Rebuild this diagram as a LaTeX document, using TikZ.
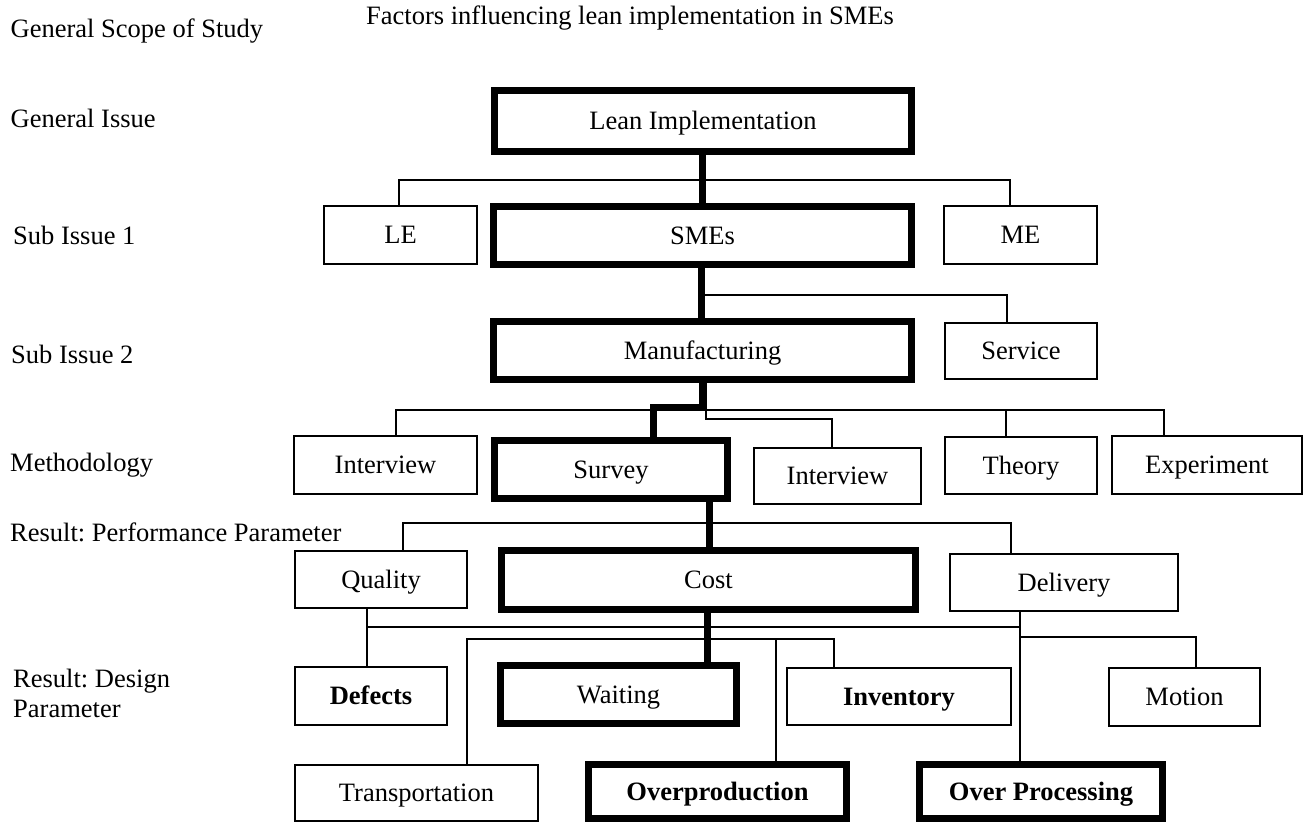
\documentclass[tikz,border=0pt]{standalone}
\usepackage{fontspec}
\setmainfont{Liberation Serif}
\begin{document}
\frenchspacing
\begin{tikzpicture}[x=1pt,y=-1pt,
  every node/.style={font=\fontsize{26.5}{30}\selectfont},
  thinbox/.style={draw, line width=2.2pt, inner sep=0pt, outer sep=0pt, fill=white, text height=22pt, text depth=5pt},
  thickbox/.style={draw, line width=7pt, inner sep=0pt, outer sep=0pt, fill=white, text height=22pt, text depth=5pt},
  thinline/.style={line width=2.5pt, line join=miter},
  thickline/.style={line width=7pt, line join=miter},
  lbl/.style={anchor=west, inner sep=0pt, align=left}]
\useasboundingbox (0,0) rectangle (1307,825);

% left labels and title
\node[lbl] (title) at (366,18) {Factors influencing lean implementation in SMEs};
\node[lbl] (gss) at (10.5,31) {General Scope of Study};
\node[lbl] (gi) at (10.5,118) {General Issue};
\node[lbl] (si1) at (13,235) {Sub Issue 1};
\node[lbl] (si2) at (11,354) {Sub Issue 2};
\node[lbl] (meth) at (10,465) {Methodology};
\node[lbl] (rpp) at (10,532) {Result: Performance Parameter};
\node[lbl] (rdp) at (13,693) {Result: Design\\Parameter};

% junction points
\coordinate (t1) at (702,180);
\coordinate (a1) at (399,180);
\coordinate (a2) at (1010,180);
\coordinate (t2) at (701,295);
\coordinate (b2) at (1007,295);
\coordinate (m1) at (702,407);
\coordinate (m2) at (653,407);
\coordinate (n1) at (396,410);
\coordinate (n3) at (1006,410);
\coordinate (n4) at (1164,410);
\coordinate (k1) at (706,419);
\coordinate (k2) at (832,419);
\coordinate (s1) at (709,523);
\coordinate (q1) at (403,523);
\coordinate (d1) at (1011,523);
\coordinate (c1) at (707,627);
\coordinate (r1) at (367,627);
\coordinate (r2) at (1020,627);
\coordinate (r3) at (1020,637);
\coordinate (r4) at (1196,637);
\coordinate (u1) at (467,639);
\coordinate (u2) at (776,639);
\coordinate (u3) at (834,639);

% boxes
\node[thickbox, minimum width=417pt, minimum height=61pt] (lean) at (703,121) {Lean Implementation};
\node[thinbox, minimum width=153pt, minimum height=58pt] (le) at (400.5,235) {LE};
\node[thickbox, minimum width=418pt, minimum height=58pt] (smes) at (702.5,235.5) {SMEs};
\node[thinbox, minimum width=153pt, minimum height=58pt] (me) at (1020.5,235) {ME};
\node[thickbox, minimum width=418pt, minimum height=58pt] (manu) at (702.5,350.5) {Manufacturing};
\node[thinbox, minimum width=152pt, minimum height=56pt] (service) at (1021,351) {Service};
\node[thinbox, minimum width=183pt, minimum height=58pt] (int1) at (385.5,465) {Interview};
\node[thickbox, minimum width=233pt, minimum height=58pt] (survey) at (611,469.5) {Survey};
\node[thinbox, minimum width=167pt, minimum height=56pt] (int2) at (837.5,476) {Interview};
\node[thinbox, minimum width=152pt, minimum height=57pt] (theory) at (1021,465.5) {Theory};
\node[thinbox, minimum width=190pt, minimum height=58pt] (exper) at (1207,465) {Experiment};
\node[thinbox, minimum width=172pt, minimum height=57pt] (quality) at (381,579.5) {Quality};
\node[thickbox, minimum width=414pt, minimum height=59pt] (cost) at (708.5,580) {Cost};
\node[thinbox, minimum width=228pt, minimum height=57pt] (delivery) at (1064,582.5) {Delivery};
\node[thinbox, minimum width=152pt, minimum height=58pt] (defects) at (371,696) {\bfseries Defects};
\node[thickbox, minimum width=236pt, minimum height=58pt] (waiting) at (618.5,694.5) {Waiting};
\node[thinbox, minimum width=224pt, minimum height=57pt] (inventory) at (899,696.5) {\bfseries Inventory};
\node[thinbox, minimum width=151pt, minimum height=58pt] (motion) at (1184.5,697) {Motion};
\node[thinbox, minimum width=243pt, minimum height=56pt] (transport) at (416.5,793) {Transportation};
\node[thickbox, minimum width=258pt, minimum height=54pt] (overprod) at (717.5,791.5) {\bfseries Overproduction};
\node[thickbox, minimum width=243pt, minimum height=54pt] (overproc) at (1041,791.5) {\bfseries Over Processing};

% connectors
\draw[thickline] (lean.south -| t1) -- (smes.north -| t1);
\draw[thinline] (le.north -| a1) -- (a1) -- (a2) -- (me.north -| a2);

\draw[thickline] (smes.south -| t2) -- (manu.north -| t2);
\draw[thinline] (t2) -- (b2) -- (service.north -| b2);

\draw[thinline] (int1.north -| n1) -- (n1) -- (n4) -- (exper.north -| n4);
\draw[thinline] (n3) -- (theory.north -| n3);
\draw[thinline] (manu.south -| k1) -- (k1) -- (k2) -- (int2.north -| k2);
\draw[thickline] (manu.south -| m1) -- (m1) -- (m2) -- (survey.north -| m2);

\draw[thickline] (survey.south -| s1) -- (cost.north -| s1);
\draw[thinline] (quality.north -| q1) -- (q1) -- (d1) -- (delivery.north -| d1);

\draw[thinline] (quality.south -| r1) -- (defects.north -| r1);
\draw[thinline] (r1) -- (r2);
\draw[thinline] (delivery.south -| r2) -- (overproc.north -| r2);
\draw[thinline] (r3) -- (r4) -- (motion.north -| r4);
\draw[thinline] (transport.north -| u1) -- (u1) -- (u3) -- (inventory.north -| u3);
\draw[thinline] (u2) -- (overprod.north -| u2);
\draw[thickline] (cost.south -| c1) -- (waiting.north -| c1);
\end{tikzpicture}
\end{document}
